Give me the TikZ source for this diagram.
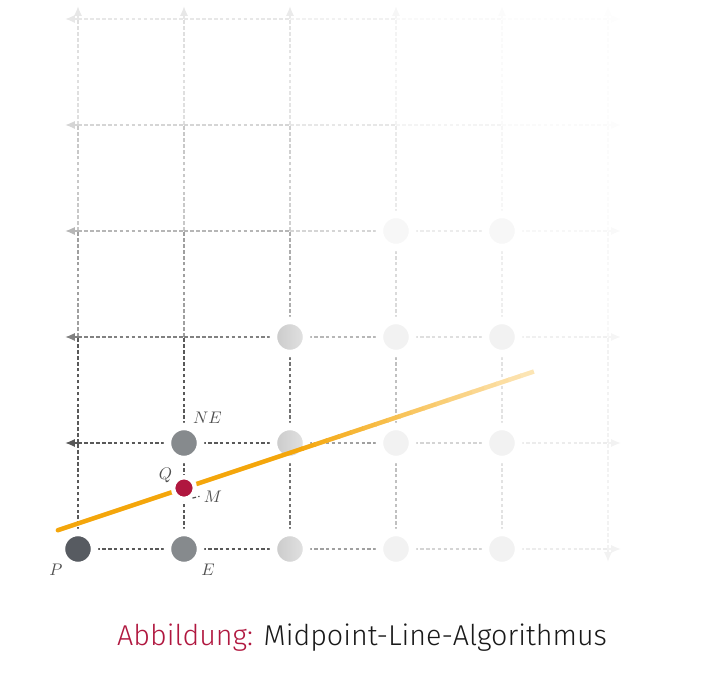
\documentclass[tikz,border=0pt]{standalone}
\usepackage{fontspec}
\usepackage{tikz}
\usetikzlibrary{arrows.meta,%
                positioning}
\newfontfamily\captionfont{Fira Sans Light}
\newcommand{\lbl}[1]{\scalebox{0.45}{$#1$}}
\definecolor{linecol}{HTML}{F4A60B}
\definecolor{linefade}{HTML}{FDE8BD}
\definecolor{midcol}{HTML}{B0173F}
\definecolor{pcol}{HTML}{575B61}
\definecolor{ecol}{HTML}{868A8D}
\definecolor{lblcol}{HTML}{505050}

\begin{document}
\begin{tikzpicture}[x=1cm,y=1cm]
		\tikzstyle{GridStyle}=[dash pattern=on 1pt off 0.6pt,line width=0.33pt]
		\tikzstyle{TipStyle}=[-{Latex[length=2.6pt,width=2.2pt]}]
		\tikzstyle{Pixel}=[circle,draw=white,line width=2pt,minimum size=0.312cm,inner sep=0pt]
		\tikzstyle{LabelStyle}=[text=lblcol,inner sep=0pt]
		\useasboundingbox (-0.7358,-1.2170) rectangle (5.9528,5.1792);
		% grid, fading away from P
		\foreach \j in {0,...,5}{
			\foreach \i in {0,...,4}{
				\pgfmathsetmacro{\gs}{65*exp(-0.8*max(0,\i+0.5-1.8))*exp(-0.55*max(0,\j-1.5))}
				\draw[GridStyle,black!\gs] (\i,\j) -- ++(1,0);
				\pgfmathsetmacro{\gs}{65*exp(-0.8*max(0,\j-1.8))*exp(-0.55*max(0,\i+0.5-1.5))}
				\draw[GridStyle,black!\gs] (\j,\i) -- ++(0,1);
			}
			\pgfmathsetmacro{\gs}{65*exp(-0.55*max(0,\j-1.5))}
			\draw[GridStyle,TipStyle,black!\gs] (0,\j) -- ++(-0.12,0);
			\pgfmathsetmacro{\gs}{65*exp(-0.8*max(0,\j-1.8))}
			\draw[GridStyle,TipStyle,black!\gs] (\j,0) -- ++(0,-0.12);
			\pgfmathsetmacro{\gs}{65*exp(-0.8*3.2)*exp(-0.55*max(0,\j-1.5))}
			\draw[GridStyle,TipStyle,black!\gs] (5,\j) -- ++(0.12,0);
			\pgfmathsetmacro{\gs}{65*exp(-0.8*max(0,\j-1.8))*exp(-0.55*3.5)}
			\draw[GridStyle,TipStyle,black!\gs] (\j,5) -- ++(0,0.12);
		}
		% pixels
		\foreach \i in {3,4}{
			\foreach \j in {0,1,2}
				\node[Pixel,fill=black!5] (px\i\j) at (\i,\j) {};
			\node[Pixel,fill=black!3] (px\i3) at (\i,3) {};
		}
		\foreach \j in {0,1,2}
			\node[Pixel,left color=black!21,right color=black!11] (px2\j) at (2,\j) {};
		\node[Pixel,fill=pcol] (P) at (0,0) {};
		\node[Pixel,fill=ecol] (E) at (1,0) {};
		\node[Pixel,fill=ecol] (NE) at (1,1) {};
		% the line
		\coordinate (Lstart) at (-0.19,0.177);
		\coordinate (Lmid) at (2,0.907);
		\draw[linecol,line width=1.2pt,line cap=round] (Lstart) -- (Lmid);
		\foreach \k in {0,...,19}{
			\pgfmathsetmacro{\lp}{100-5*\k}
			\draw[linecol!\lp!linefade,line width=1.2pt] (2+0.1145*\k,0.907+0.03817*\k) -- ++(0.125,0.04167);
		}
		%\draw[linefade,line width=1.2pt,line cap=round] (4.28,1.667) -- (4.29,1.67);
		\node[circle,fill=midcol,draw=white,line width=1.2pt,minimum size=0.206cm,inner sep=0pt] (M) at (1,0.575) {};
		% labels
		\node[LabelStyle] (lNE) at ([shift={(0.222,0.236)}]NE) {\lbl{NE}};
		\node[LabelStyle] (lE) at ([shift={(0.226,-0.198)}]E) {\lbl{E}};
		\node[LabelStyle] (lP) at ([shift={(-0.208,-0.198)}]P) {\lbl{P}};
		\node[LabelStyle] (lQ) at ([shift={(-0.175,0.118)}]M) {\lbl{Q}};
		\node[LabelStyle,inner xsep=1pt] (lM) at ([shift={(0.274,-0.078)}]M) {\lbl{M}};
		\draw[GridStyle,lblcol] (M.-50) -- (lM.west);
		\node[font=\captionfont\fontsize{7.7}{10}\selectfont,anchor=base,text=black!90] (cap) at (2.68,-0.906)
			{\textcolor{midcol}{Abbildung:} Midpoint-Line-Algorithmus};
\end{tikzpicture}
\end{document}
